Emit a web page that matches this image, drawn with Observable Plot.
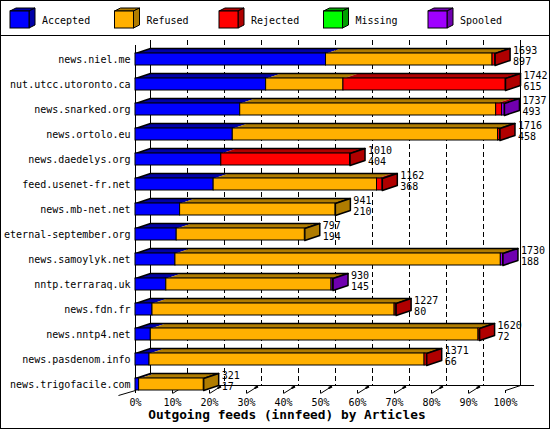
<!DOCTYPE html>
<html><head><meta charset="utf-8">
<script src="https://cdn.jsdelivr.net/npm/d3@7"></script>
<script src="https://cdn.jsdelivr.net/npm/@observablehq/plot@0.6"></script>
<style>
body{margin:0;background:#fff;}
#wrap{position:relative;width:550px;height:430px;background:#fff;font-family:"DejaVu Sans Mono",monospace;}
#legend{position:absolute;left:0;top:0;}
#chart{position:absolute;left:0;top:36px;}
#border{position:absolute;left:0;top:0;width:550px;height:429px;box-sizing:border-box;border:1px solid #000;pointer-events:none;}
</style></head>
<body>
<div id="wrap"><div id="legend"></div><div id="chart"></div><div id="border"></div></div>
<script>
// ---- data ----
const hosts = ["news.niel.me","nut.utcc.utoronto.ca","news.snarked.org","news.ortolo.eu","news.daedelys.org","feed.usenet-fr.net","news.mb-net.net","eternal-september.org","news.samoylyk.net","nntp.terraraq.uk","news.fdn.fr","news.nntp4.net","news.pasdenom.info","news.trigofacile.com"];
const accepted = [897,615,493,458,404,368,210,194,188,145,80,72,66,17];
const refused  = [784,364,1205,1249,0,769,731,603,1532,778,1140,1543,1295,304];
const rejected = [12,763,28,9,606,25,0,0,0,0,7,5,10,0];
const missing  = [0,0,0,0,0,0,0,0,0,0,0,0,0,0];
const spooled  = [0,0,11,0,0,0,0,0,10,7,0,0,0,0];
const seriesNames = ["Accepted","Refused","Rejected","Missing","Spooled"];
const xTicks = [0,10,20,30,40,50,60,70,80,90,100];
const title = "Outgoing feeds (innfeed) by Articles";

// ---- styling ----
const fronts = ["#0000ff","#ffb000","#ff0000","#00ff00","#a000ff"];
const shades = ["#0000a8","#b07c00","#b00000","#00a000","#7000b0"];
const seriesVals = [accepted, refused, rejected, missing, spooled];

// ---- legend ----
const lg = d3.select("#legend").append("svg").attr("width",550).attr("height",36);
seriesNames.forEach((n,k)=>{
  const x = 10 + k*104.5;
  lg.append("polygon").attr("points",`${x},11 ${x+19},11 ${x+25},8 ${x+6},8`).attr("fill",shades[k]).attr("stroke","#000");
  lg.append("polygon").attr("points",`${x+19},11 ${x+25},8 ${x+25},25 ${x+19},28`).attr("fill",shades[k]).attr("stroke","#000");
  lg.append("rect").attr("x",x).attr("y",11).attr("width",19).attr("height",17).attr("fill",fronts[k]).attr("stroke","#000");
  lg.append("text").attr("x",x+32).attr("y",20).attr("dy","0.35em").attr("font-size",10)
    .attr("font-family","DejaVu Sans Mono").text(n);
});
lg.append("line").attr("x1",0).attr("x2",550).attr("y1",35.5).attr("y2",35.5).attr("stroke","#000");

// ---- geometry ----
const totals = hosts.map((_,i)=>seriesVals.reduce((s,a)=>s+a[i],0));
const MAX = d3.max(totals);
const pct = v => v/MAX*100;
const DX = 15*100/370;   // depth in x units (15px)
const DY = 0.2;          // depth in row units (5px)
const H = 0.24;          // half bar height (6px)
const yTop = -0.76, yFloorBack = 13.04, yFloorFront = yFloorBack + DY;

const segs = [], tops = [], outlines = [], sides = [];
hosts.forEach((h,i)=>{
  let acc = 0, last = null;
  seriesVals.forEach((arr,k)=>{
    const v = arr[i];
    if (v > 0) {
      const x1 = pct(acc), x2 = pct(acc+v);
      segs.push({i, x1, x2, fill: fronts[k]});
      const id = `t${i}-${k}`;
      [[x1,i-H],[x2,i-H],[x2+DX,i-H-DY],[x1+DX,i-H-DY]].forEach(([x,y])=>tops.push({id,x,y,fill:shades[k]}));
      last = k;
    }
    acc += v;
  });
  const xe = pct(acc);
  [[0,i-H],[xe,i-H],[xe+DX,i-H-DY],[DX,i-H-DY]].forEach(([x,y])=>outlines.push({id:"o"+i,x,y}));
  [[xe,i-H],[xe+DX,i-H-DY],[xe+DX,i+H-DY],[xe,i+H]].forEach(([x,y])=>sides.push({id:"s"+i,x,y,fill:shades[last]}));
});
const rows = hosts.map((h,i)=>({i, total: totals[i], acc: accepted[i]}));

const chart = Plot.plot({
  width: 550, height: 392,
  marginLeft: 135, marginRight: 45, marginTop: 0, marginBottom: 38,
  x: {domain: [0,100], range: [135,505], axis: null},
  y: {domain: [0,13], range: [23,348], axis: null},
  color: {type: "identity"},
  style: {fontFamily: "DejaVu Sans Mono", fontSize: "10px", background: "transparent", overflow: "visible", color: "#000"},
  marks: [
    // back grid
    Plot.ruleX(xTicks.filter(t=>t>0 && t<100), {x: t=>t+DX, y1: yTop, y2: yFloorBack, stroke:"#000", strokeDasharray:"5,3"}),
    Plot.ruleX([0,100], {x: t=>t+DX, y1: yTop, y2: yFloorBack, stroke:"#000"}),
    Plot.ruleY([yFloorBack], {x1: DX, x2: 100+DX+3.8, stroke:"#000"}),
    // floor edges
    Plot.link([0], {x1: t=>t-4.6, y1: yFloorFront+0.2, x2: t=>t, y2: yFloorFront, stroke:"#000"}),
    Plot.link([100], {x1: t=>t, y1: yFloorFront, x2: t=>t+DX, y2: yFloorBack, stroke:"#000"}),
    // slanted ticks
    Plot.link(xTicks.filter(t=>t>0 && t<100), {x1: t=>t, y1: yFloorFront+0.12, x2: t=>t+3, y2: yFloorBack+0.04, stroke:"#000"}),
    Plot.link(xTicks.filter(t=>t>0 && t<100), {x1: t=>t+2.2, y1: yFloorBack+0.1, x2: t=>t+3.1, y2: yFloorBack+0.04, stroke:"#000", strokeWidth:2}),
    // front left axis
    Plot.ruleX([0], {y1: yTop+DY, y2: yFloorFront, stroke:"#000"}),
    // bars
    Plot.line(tops, {x:"x", y:"y", z:"id", fill:"fill", stroke:"none", curve:"linear-closed"}),
    Plot.line(outlines, {x:"x", y:"y", z:"id", fill:"none", stroke:"#000", curve:"linear-closed"}),
    Plot.line(sides, {x:"x", y:"y", z:"id", fill:"fill", stroke:"#000", curve:"linear-closed"}),
    Plot.rect(segs, {x1:"x1", x2:"x2", y1: d=>d.i-H, y2: d=>d.i+H, fill:"fill", stroke:"#000"}),
    // value labels
    Plot.text(rows, {x: d=>pct(d.total)+DX, y:"i", text: d=>`${d.total}\n${d.acc}`, textAnchor:"start", dx:3, dy:-3.5, lineHeight:1.1, fill:"#000"}),
    // axes
    Plot.axisY(d3.range(hosts.length), {tickFormat: i=>hosts[i], tickSize:0, tickPadding:5, label:null, fill:"#000"}),
    Plot.axisX(xTicks, {tickFormat: d=>d+"%", tickSize:3, tickPadding:5, label:null, stroke:"#000", fill:"#000"}),
    Plot.text([title], {frameAnchor:"bottom", dy:28, dx:-33.5, fontWeight:"bold", fontSize:12.8, fill:"#000"})
  ]
});
document.getElementById("chart").appendChild(chart);
</script>
</body></html>
